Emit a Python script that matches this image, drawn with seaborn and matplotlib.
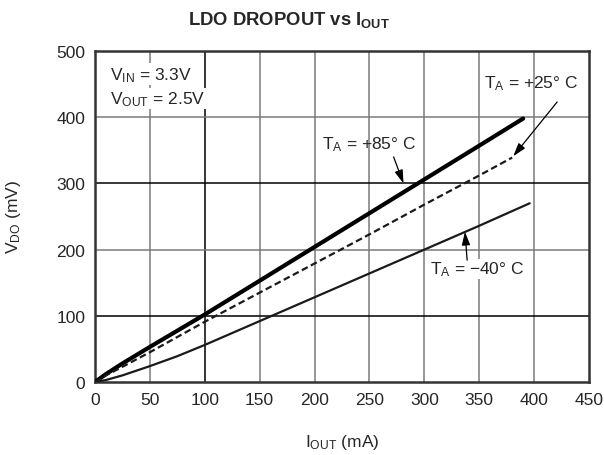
import numpy as np
import pandas as pd
import matplotlib
matplotlib.use("Agg")
import matplotlib.pyplot as plt
import seaborn as sns

# ------------------ Data ------------------
iout_85 = [0, 10, 25, 50, 100, 150, 200, 250, 300, 350, 390]
vdo_85 = [0, 12, 28, 53, 102, 153, 204, 255, 306, 357, 398]

iout_25 = [0, 10, 25, 50, 100, 150, 200, 250, 300, 350, 380]
vdo_25 = [0, 10, 23, 45, 91, 135, 179, 223, 268, 312, 339]

iout_m40 = [0, 10, 25, 50, 75, 100, 150, 200, 250, 300, 350, 396]
vdo_m40 = [0, 3, 10, 24, 39, 56, 92, 128, 164, 200, 236, 270]

df = pd.concat([
    pd.DataFrame({'iout': iout_85, 'vdo': vdo_85, 'temp': '+85'}),
    pd.DataFrame({'iout': iout_25, 'vdo': vdo_25, 'temp': '+25'}),
    pd.DataFrame({'iout': iout_m40, 'vdo': vdo_m40, 'temp': '-40'}),
])

# ------------------ Plot ------------------
sns.set_style("white")
plt.rcParams['font.family'] = ['Liberation Sans', 'DejaVu Sans']
plt.rcParams['mathtext.fontset'] = 'custom'
plt.rcParams['mathtext.rm'] = 'Liberation Sans'
plt.rcParams['mathtext.it'] = 'Liberation Sans'
plt.rcParams['mathtext.bf'] = 'Liberation Sans:bold'

FS = 12.5

fig = plt.figure(figsize=(6.04, 4.56), dpi=100)
ax = fig.add_axes([95 / 604, 1 - 383 / 456, 494 / 604, 331 / 456])

sns.lineplot(data=df, x='iout', y='vdo', hue='temp', style='temp',
             palette={'+85': 'black', '+25': '#1a1a1a', '-40': '#1a1a1a'},
             size='temp', sizes={'+85': 3.0, '+25': 1.6, '-40': 1.6},
             dashes={'+85': '', '+25': (3, 1.6), '-40': ''},
             sort=False, estimator=None, legend=False, ax=ax, zorder=3)

ax.set_xlim(0, 450)
ax.set_ylim(0, 500)
ax.set_xticks(np.arange(0, 451, 50))
ax.set_yticks(np.arange(0, 501, 100))
ax.tick_params(labelsize=FS, length=0, pad=7)

# grid, some lines darker like the original
for x in np.arange(50, 450, 50):
    ax.axvline(x, color='black' if x == 100 else '#7a7a7a', lw=1.1, zorder=1)
for y in np.arange(100, 500, 100):
    ax.axhline(y, color='black' if y in (100, 300) else '#7a7a7a', lw=1.1, zorder=1)

for s in ax.spines.values():
    s.set_visible(True)
    s.set_color('#333333')
    s.set_linewidth(1.8)

ax.set_xlabel(r'I$_{\mathrm{OUT}}$ (mA)', fontsize=FS, labelpad=18)
ax.set_ylabel(r'V$_{\mathrm{DO}}$ (mV)', fontsize=FS, labelpad=24)
fig.text(289 / 604, 1 - 20 / 456, r'LDO DROPOUT vs I$_{\mathbf{OUT}}$',
         ha='center', va='center', fontsize=13.3, fontweight='bold')

ax.text(14, 465, r'V$_{\mathrm{IN}}$ = 3.3V', fontsize=FS, va='center',
        bbox=dict(fc='white', ec='none', pad=1), zorder=4)
ax.text(14, 428, r'V$_{\mathrm{OUT}}$ = 2.5V', fontsize=FS, va='center',
        bbox=dict(fc='white', ec='none', pad=1), zorder=4)

arrow = dict(arrowstyle='-|>,head_length=0.8,head_width=0.25', color='black', lw=0.9,
             shrinkA=0, shrinkB=0)
ax.annotate(r'T$_{\mathrm{A}}$ = +85$\degree$ C', xy=(281, 298), xytext=(207, 360),
            fontsize=FS, va='center', zorder=4)
ax.annotate('', xy=(281, 300), xytext=(272, 340), arrowprops=arrow, zorder=4)

ax.annotate(r'T$_{\mathrm{A}}$ = +25$\degree$ C', xy=(381, 341), xytext=(354, 452),
            fontsize=FS, va='center', zorder=4)
ax.annotate('', xy=(381, 341), xytext=(421, 423), arrowprops=arrow, zorder=4)

ax.annotate(r'T$_{\mathrm{A}}$ = $-$40$\degree$ C', xy=(337, 227), xytext=(305, 171),
            fontsize=FS, va='center', zorder=4,
            bbox=dict(fc='white', ec='none', pad=0.5))
ax.annotate('', xy=(337, 227), xytext=(339, 184), arrowprops=arrow, zorder=4)

fig.savefig("out.png", dpi=100)
